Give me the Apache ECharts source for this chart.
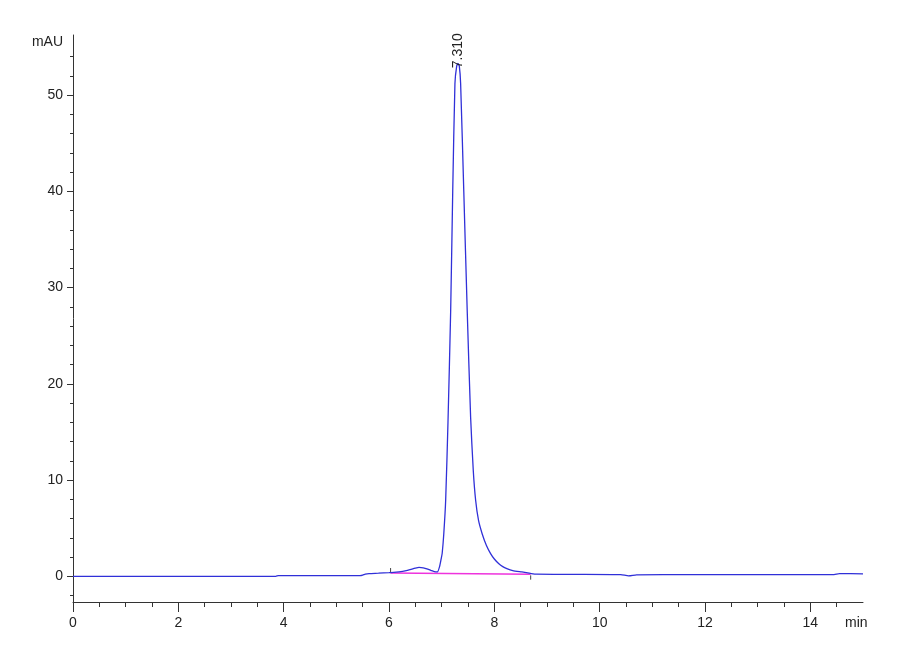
<!DOCTYPE html>
<html>
<head>
<meta charset="utf-8">
<title>Chromatogram</title>
<script src="https://cdn.jsdelivr.net/npm/echarts@6/dist/echarts.min.js"></script>
<style>
  html, body { margin: 0; padding: 0; background: #fff; }
  #root { width: 900px; height: 660px; }
</style>
</head>
<body>
<div id="root"></div>
<script>
// 保留时间 (min)
var signalTime = [0, 1, 2, 3, 3.85, 3.9, 5.0, 5.45, 5.5, 5.55, 5.62, 5.8, 6.0, 6.19, 6.35, 6.5, 6.57, 6.65, 6.72, 6.8, 6.89, 6.92,
  6.96, 6.99, 7.01, 7.04, 7.076, 7.12, 7.171, 7.21, 7.252, 7.285, 7.31, 7.335, 7.36, 7.42, 7.485, 7.55, 7.6, 7.645, 7.7,
  7.77, 7.85, 7.929, 8.0, 8.086, 8.16, 8.237, 8.35, 8.522, 8.69, 8.8, 9.5, 10.4, 10.55, 10.7, 11.2, 12, 13, 14, 14.45, 14.55, 15];
// 吸光度 (mAU)
var signalValue = [0, 0, 0, 0, 0, 0.07, 0.07, 0.07, 0.12, 0.22, 0.28, 0.32, 0.38, 0.45, 0.62, 0.85, 0.93, 0.88, 0.78, 0.6, 0.45, 0.45,
  1.0, 1.8, 2.4, 4.4, 7.9, 16, 27.6, 40, 51.2, 53.0, 53.3, 53.0, 51.2, 40, 27.6, 16.5, 11, 7.9, 5.8,
  4.4, 3.2, 2.36, 1.8, 1.3, 1.0, 0.8, 0.6, 0.45, 0.3, 0.22, 0.2, 0.17, 0.05, 0.15, 0.17, 0.17, 0.17, 0.17, 0.18, 0.28, 0.26];

// 积分基线 (起点, 终点)
var baselineTime = [6.03, 8.69];
var baselineValue = [0.35, 0.22];
// 积分起止标记
var startMarkTime = [6.03, 6.03];
var startMarkValue = [0.45, 0.86];
var endMarkTime = [8.69, 8.69];
var endMarkValue = [0.1, -0.35];

// 峰标注
var peakTime = 7.31;
var peakHeight = 53.3;
var peakText = '7.310';

// 刻度
var xMajorTicks = [0, 2, 4, 6, 8, 10, 12, 14];
var xMinorTicks = [0.5, 1, 1.5, 2.5, 3, 3.5, 4.5, 5, 5.5, 6.5, 7, 7.5, 8.5, 9, 9.5, 10.5, 11, 11.5, 12.5, 13, 13.5, 14.5];
var yMajorTicks = [0, 10, 20, 30, 40, 50];
var yMinorTicks = [-2, 2, 4, 6, 8, 12, 14, 16, 18, 22, 24, 26, 28, 32, 34, 36, 38, 42, 44, 46, 48, 52, 54];

function pairs(xs, ys) {
  var out = [];
  for (var i = 0; i < xs.length; i++) out.push([xs[i], ys[i]]);
  return out;
}

var FONT = "'Liberation Sans', Arial, sans-serif";
var X_MIN = 0, X_MAX = 15;
var Y_MIN = -2.67, Y_MAX = 56.24;

var myChart = echarts.init(document.getElementById('root'));

var axisLineStyle = { color: '#333', width: 1 };

var option = {
  animation: false,
  backgroundColor: '#fff',
  grid: { left: 73, right: 37, top: 35, bottom: 58, containLabel: false },
  xAxis: [{
    type: 'value', min: X_MIN, max: X_MAX,
    name: 'min', nameLocation: 'end', nameGap: -18,
    nameTextStyle: { fontFamily: FONT, fontSize: 14, color: '#222', verticalAlign: 'top', padding: [14, 0, 0, 0] },
    axisLine: { show: true, onZero: false, lineStyle: axisLineStyle },
    axisTick: { show: true, length: 10, customValues: xMajorTicks, lineStyle: axisLineStyle },
    axisLabel: { customValues: xMajorTicks, fontFamily: FONT, fontSize: 14, color: '#222', margin: 14 },
    splitLine: { show: false }
  }, {
    type: 'value', min: X_MIN, max: X_MAX, position: 'bottom',
    axisLine: { show: false, onZero: false },
    axisTick: { show: true, length: 5, customValues: xMinorTicks, lineStyle: axisLineStyle },
    axisLabel: { show: false },
    splitLine: { show: false }
  }],
  yAxis: [{
    type: 'value', min: Y_MIN, max: Y_MAX,
    name: 'mAU', nameLocation: 'end', nameGap: -7,
    nameTextStyle: { fontFamily: FONT, fontSize: 14, color: '#222', align: 'right', verticalAlign: 'middle', padding: [0, 10, 0, 0] },
    axisLine: { show: true, onZero: false, lineStyle: axisLineStyle },
    axisTick: { show: true, length: 6, customValues: yMajorTicks, lineStyle: axisLineStyle },
    axisLabel: { customValues: yMajorTicks, fontFamily: FONT, fontSize: 14, color: '#222', margin: 10 },
    splitLine: { show: false }
  }, {
    type: 'value', min: Y_MIN, max: Y_MAX, position: 'left',
    axisLine: { show: false, onZero: false },
    axisTick: { show: true, length: 3, customValues: yMinorTicks, lineStyle: axisLineStyle },
    axisLabel: { show: false },
    splitLine: { show: false }
  }],
  series: [{
    name: 'baseline',
    type: 'line',
    data: pairs(baselineTime, baselineValue),
    symbol: 'none',
    lineStyle: { color: '#ee33dd', width: 1.5 },
    z: 2
  }, {
    name: 'signal',
    type: 'line',
    data: pairs(signalTime, signalValue),
    symbol: 'none',
    smooth: 0.2,
    lineStyle: { color: '#3030d8', width: 1.3 },
    z: 3,
    markPoint: {
      silent: true,
      symbol: 'circle',
      symbolSize: 0,
      data: [{ coord: [peakTime, peakHeight], value: peakText }],
      label: {
        show: true,
        formatter: '{c}',
        position: 'top',
        distance: -5,
        rotate: 90,
        align: 'left',
        verticalAlign: 'middle',
        fontFamily: FONT,
        fontSize: 14,
        color: '#222'
      }
    }
  }, {
    name: 'start',
    type: 'line',
    data: pairs(startMarkTime, startMarkValue),
    symbol: 'none',
    lineStyle: { color: '#444', width: 1 },
    z: 4
  }, {
    name: 'end',
    type: 'line',
    data: pairs(endMarkTime, endMarkValue),
    symbol: 'none',
    lineStyle: { color: '#444', width: 1 },
    z: 4
  }]
};

myChart.setOption(option);
</script>
</body>
</html>
